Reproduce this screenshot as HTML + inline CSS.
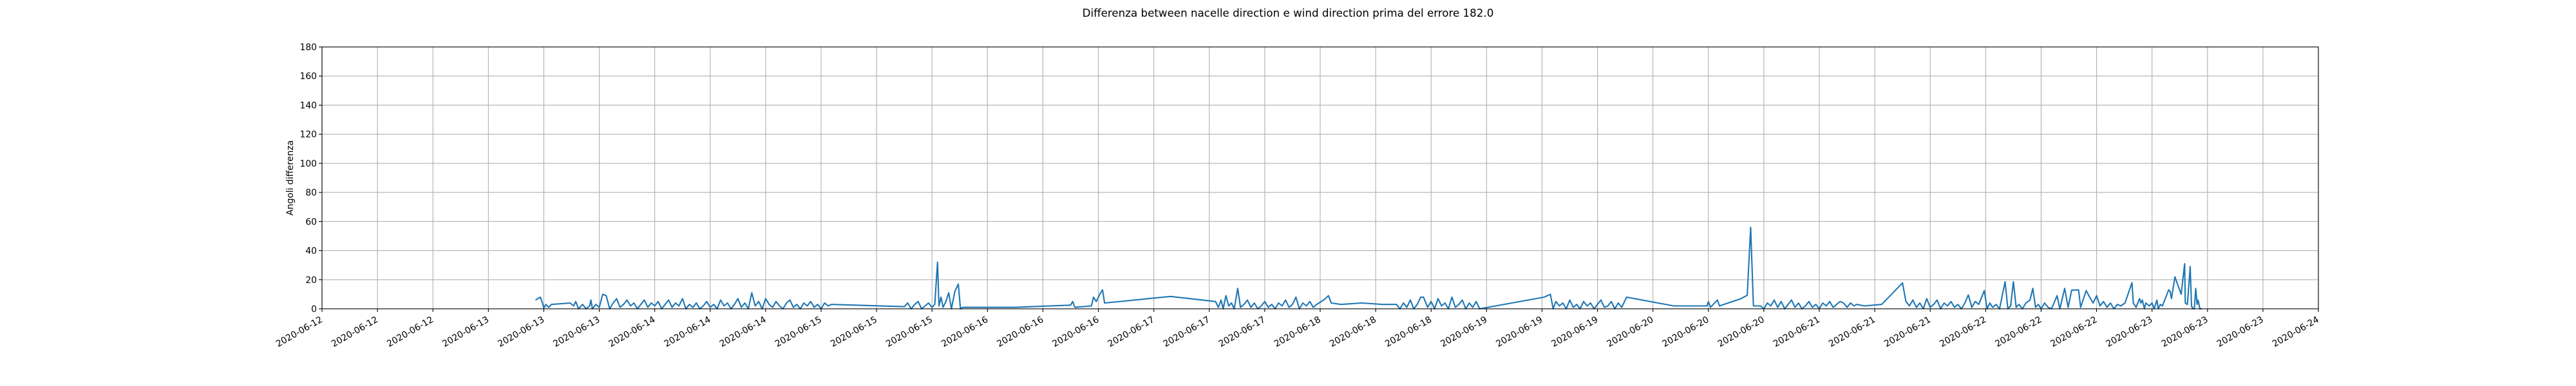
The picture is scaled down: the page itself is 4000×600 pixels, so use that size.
<!DOCTYPE html>
<html><head><meta charset="utf-8"><style>
html,body{margin:0;padding:0;background:#fff;}
svg{display:block;font-family:"DejaVu Sans","Liberation Sans",sans-serif;}
</style></head><body>
<svg id="chart" width="4000" height="600" viewBox="0 0 4000 600" xmlns="http://www.w3.org/2000/svg">
<rect x="0" y="0" width="4000" height="600" fill="#fff"/>
<text x="2000" y="26" font-size="16.7" text-anchor="middle" fill="#000">Differenza between nacelle direction e wind direction prima del errore 182.0</text>
<text transform="translate(455,276.5) rotate(-90)" font-size="13.9" text-anchor="middle" fill="#000">Angoli differenza</text>
<g id="grid"></g>
<g id="series"></g>
<g id="axes"></g>
</svg>
<script>
// hours since 2020-06-12 00:00
const times = [30.8,31.5,31.8,32.0,32.3,32.7,33.1,35.8,36.3,36.6,37.0,37.6,38.1,38.6,38.8,
39,39.5,40,40.5,41,41.5,42,42.5,43,43.5,44,44.5,45,45.5,46,46.5,47,47.5,48,48.5,49,49.5,50,50.5,51,51.5,52,52.5,53,53.5,54,54.5,55,55.5,56,56.5,57,57.5,58,58.5,59,59.5,60,60.5,61,61.5,62,62.5,63,63.5,64,64.5,65,65.5,66,66.5,67,67.5,68,68.5,69,69.5,70,70.5,71,71.5,72,72.5,73,
73.5,84,84.5,85,85.5,86,86.5,87,87.5,88,88.4,88.8,89.0,89.3,89.6,90,90.4,90.8,91.3,91.8,92.1,92.4,
100,108,108.3,108.6,111,111.3,111.7,112.2,112.6,112.9,122.4,128.9,
129.3,129.7,130,130.4,130.8,131.2,131.6,132.1,132.5,133,133.5,134,134.5,135,135.5,136,136.5,137,137.5,138,138.5,139,139.5,140,140.5,141,141.5,142,142.5,143,
143.5,144.5,145.2,145.6,147,150,153,155,
155.5,156,156.5,157,157.5,158,158.5,158.9,159.5,160,160.5,161,161.5,162,162.5,163,163.5,164,164.5,165,165.5,166,166.5,167,
176.3,177.2,177.6,178,178.5,179,179.5,180,180.5,181,181.5,182,182.5,183,183.5,184,184.5,185,185.5,186,186.5,187,187.5,188.2,
195,199.8,200,200.3,201.3,201.6,204.7,205.6,206.1,206.5,207.5,
208,208.5,209,209.5,210,210.5,211,211.5,212,212.5,213,213.5,214,214.5,215,215.5,216,216.5,217,217.5,218,218.5,219,219.5,220,220.5,221,221.4,
222.5,225,228,228.5,229,229.5,230,230.5,231,231.5,232,232.5,233,233.5,234,234.5,235,235.5,236,236.5,237,
237.5,238,238.5,239,239.8,240.2,240.6,241,241.5,242,242.8,243.2,243.6,244,244.4,244.8,245.3,245.8,246.4,246.8,247.2,247.6,248,248.5,249,249.5,250.3,250.7,251.4,251.9,252.4,253.4,253.7,254.5,255,255.5,256,
256.5,257,257.5,258,258.5,259,259.5,260.1,261.1,261.3,261.7,262.2,262.4,262.6,262.9,263.1,263.6,264.0,264.3,264.7,264.9,265.2,265.5,266.4,266.6,266.8,267.3,268.2,268.7,268.8,269.1,269.5,269.7,269.9,270.1,270.3,270.5,270.6,270.7,270.9,271.2];
const values = [6,8,4,0.5,3,1,3,4,2,5,0,3,0,2,6,
0,3,1,10,9,0,4,7,1,3,6,2,4,0,3,6,1,4,2,5,0,3,6,1,4,2,7,0,3,1,4,0,2,5,1,3,0,6,2,4,0,3,7,1,4,0,11,2,5,0,7,3,1,5,2,0,4,6,1,3,0,4,2,5,1,3,0,4,2,
3,1.5,4,0,3,5,0,2,4,1,3,32,2,8,1,5,11,0,12,17,0,1,
1,2.5,5,1,2,8,5,10,13,4,8.5,5,
1,6,0,9,2,4,0,14,1,3,6,1,4,0,2,5,1,3,0,4,2,6,1,3,8,0,4,2,5,1,
3,6,9,4,3,4,3,3,
0,4,1,6,0,3,8,8,1,5,0,7,2,4,0,8,1,3,6,0,4,1,5,0,
8,10,0,5,2,4,0,6,1,3,0,5,2,4,0,3,6,1,2,5,0,4,1,8,
2,2,5,1,6,2,7,9.3,56,2,2,
0,4,2,6,1,5,0,3,6,1,4,0,2,5,1,3,0,4,2,5,1,3,5,4,1,4,2,3,
2,3,17.8,5,2,6,1,4,0,7,1,3,6,0,4,2,5,1,3,0,4,
9.5,1,5,3,12.5,0,4,1,3,0,18.6,0,2,18.6,1,3,0,4,6,14,1,3,0,4,1,0,9,0,14,1,12.8,13,1,12.5,8,4,9,
2,5,1,4,0,3,2,4,18,4,1,7,4,6,0,4,2,4,0,6,0,3,2,13,12,7,22,10,31,4,3,29,2,0,0,14,3,6,5,0,0];
const yTicks = [0,20,40,60,80,100,120,140,160,180];
const xTickHours = [0,8,16,24,32,40,48,56,64,72,80,88,96,104,112,120,128,136,144,152,160,168,176,184,192,200,208,216,224,232,240,248,256,264,272,280,288];

const L=500,R=3600,T=73,B=480;
const X=h=>L+(h-0)/(288-0)*(R-L);
const Y=v=>B-(v-0)/(180-0)*(B-T);
const NS="http://www.w3.org/2000/svg";
function mk(tag,attrs,parent){const e=document.createElementNS(NS,tag);for(const k in attrs)e.setAttribute(k,attrs[k]);parent.appendChild(e);return e;}
const grid=document.getElementById('grid'),axes=document.getElementById('axes'),series=document.getElementById('series');
function label(h){const d=12+Math.floor(h/24);return '2020-06-'+(d<10?'0'+d:d);}
xTickHours.forEach(h=>{
  const x=X(h);
  const g=mk('line',{x1:x,y1:T,x2:x,y2:B,stroke:'#b0b0b0','stroke-width':1.1},grid);
  
  
  const t=mk('line',{x1:x,y1:B,x2:x,y2:B+4.9,stroke:'#000','stroke-width':1.1},axes);
  
  
  const tx=mk('text',{transform:`translate(${x-3},${B+11}) rotate(-30)`,'font-size':13.9,'text-anchor':'end','dominant-baseline':'hanging',fill:'#000'},axes);
  tx.textContent=label(h);
  
  
});
yTicks.forEach(v=>{
  const y=Y(v);
  const g=mk('line',{x1:L,y1:y,x2:R,y2:y,stroke:'#b0b0b0','stroke-width':1.1},grid);
  
  
  const t=mk('line',{x1:L-4.9,y1:y,x2:L,y2:y,stroke:'#000','stroke-width':1.1},axes);
  
  
  const tx=mk('text',{x:L-8,y:y+5,'font-size':13.9,'text-anchor':'end',fill:'#000'},axes);
  tx.textContent=v;
  
  
});
const frame=mk('rect',{x:L,y:T,width:R-L,height:B-T,fill:'none',stroke:'#000','stroke-width':1.1},axes);


const pts=times.map((t,i)=>X(t).toFixed(1)+','+Y(values[i]).toFixed(1)).join(' ');
const line=mk('polyline',{points:pts,fill:'none',stroke:'#1f77b4','stroke-width':2.1,'stroke-linejoin':'round'},series);


</script>
</body></html>
